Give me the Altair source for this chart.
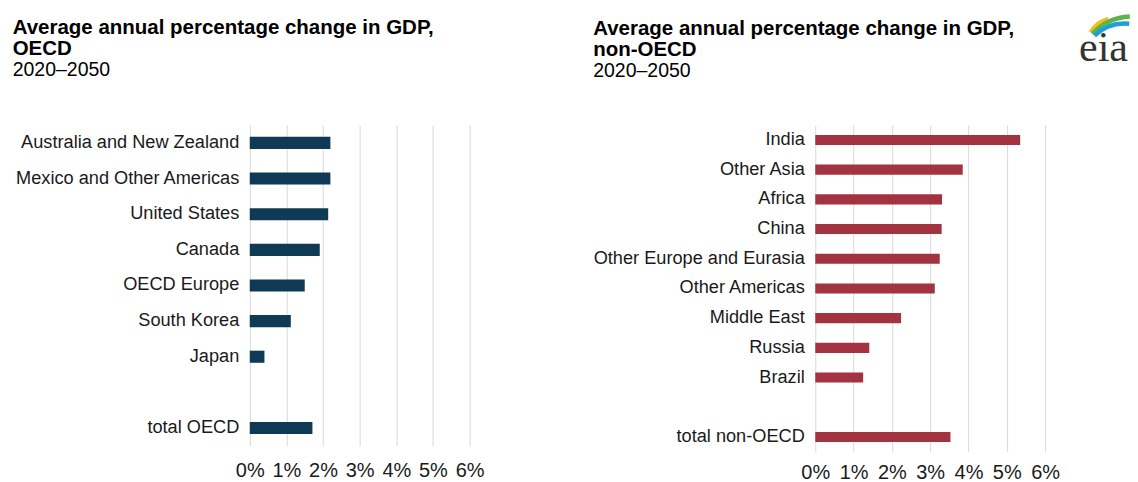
import altair as alt
import pandas as pd
import math

# ---------------- data ----------------
oecd_regions = ["Australia and New Zealand", "Mexico and Other Americas", "United States",
                "Canada", "OECD Europe", "South Korea", "Japan", " ", "total OECD"]
oecd_values = [2.20, 2.20, 2.14, 1.91, 1.50, 1.12, 0.40, None, 1.71]

non_regions = ["India", "Other Asia", "Africa", "China", "Other Europe and Eurasia",
               "Other Americas", "Middle East", "Russia", "Brazil", "  ", "total non-OECD"]
non_values = [5.35, 3.85, 3.31, 3.30, 3.25, 3.12, 2.24, 1.41, 1.25, None, 3.53]

pct_ticks = [0, 1, 2, 3, 4, 5, 6]

title_oecd = ["Average annual percentage change in GDP,", "OECD"]
title_non = ["Average annual percentage change in GDP,", "non-OECD"]
period = "2020\u20132050"
logo_text = ["eia"]

FONT = "Liberation Sans"
OECD_COLOR = "#0e3a56"
NON_COLOR = "#a33340"


def panel(regions, values, color, width, height, title_lines, dx, offset, xpad):
    df = pd.DataFrame({"region": regions, "value": values})
    return alt.Chart(df).mark_bar(color=color).encode(
        x=alt.X("value:Q",
                scale=alt.Scale(domain=[0, 6], nice=False),
                axis=alt.Axis(values=pct_ticks, labelExpr="datum.value + '%'", title=None,
                              grid=True, gridColor="#d9d9d9", gridWidth=1, domain=False,
                              ticks=False, labelFlush=False, labelFontSize=20,
                              labelPadding=xpad, labelColor="#1a1a1a", labelFont=FONT)),
        y=alt.Y("region:N",
                scale=alt.Scale(domain=regions, paddingInner=0.66, paddingOuter=0.33),
                axis=alt.Axis(title=None, domain=False, ticks=False, labelFontSize=18.2,
                              labelPadding=11, labelLimit=400, labelColor="#1a1a1a",
                              labelFont=FONT)),
    ).properties(
        width=width, height=height,
        title=alt.TitleParams(text=title_lines, subtitle=period, anchor="start", frame="group",
                              dx=dx, offset=offset, font=FONT, fontSize=20.5, fontWeight="bold",
                              color="#000000", lineHeight=21, subtitleFont=FONT,
                              subtitleFontSize=19.5, subtitleColor="#000000",
                              subtitlePadding=1, subtitleLineHeight=21),
    )


left = panel(oecd_regions, oecd_values, OECD_COLOR, 220, 321, title_oecd, -237.3, 46, 15)
right_bars = panel(non_regions, non_values, NON_COLOR, 230, 327, title_non, -222.3, -66, 11)

# ---------------- eia logo (decoration, drawn relative to the right panel) ----------------
logo_df = pd.DataFrame({"logo": logo_text})
deg = math.pi / 180


def swoosh(cx, cy, r, t1, t2, color):
    return alt.Chart(logo_df).mark_arc(
        radius=r, radius2=r - 4.5, theta=t1 * deg, theta2=t2 * deg, color=color
    ).encode(x=alt.value(cx), y=alt.value(cy))


logo_word = alt.Chart(logo_df).mark_text(
    font="Liberation Serif", fontSize=42, align="left", baseline="alphabetic", color="#333333"
).encode(text="logo:N", x=alt.value(264.0), y=alt.value(-64))

right = alt.layer(
    right_bars,
    swoosh(299.7, -79, 30, 300, 347, "#f2c01c"),
    swoosh(317.7, -53, 58, 313.6, 357, "#5cb546"),
    swoosh(309.7, -58.1, 45.9, 316, 366, "#1f9fd8"),
    logo_word,
)

chart = alt.hconcat(left, right, spacing=346, bounds="flush").properties(
    padding={"left": 4, "top": 6, "right": 0, "bottom": 0}
).configure_view(strokeWidth=0)

chart.save("out.html", embed_options={"renderer": "svg", "actions": False})
